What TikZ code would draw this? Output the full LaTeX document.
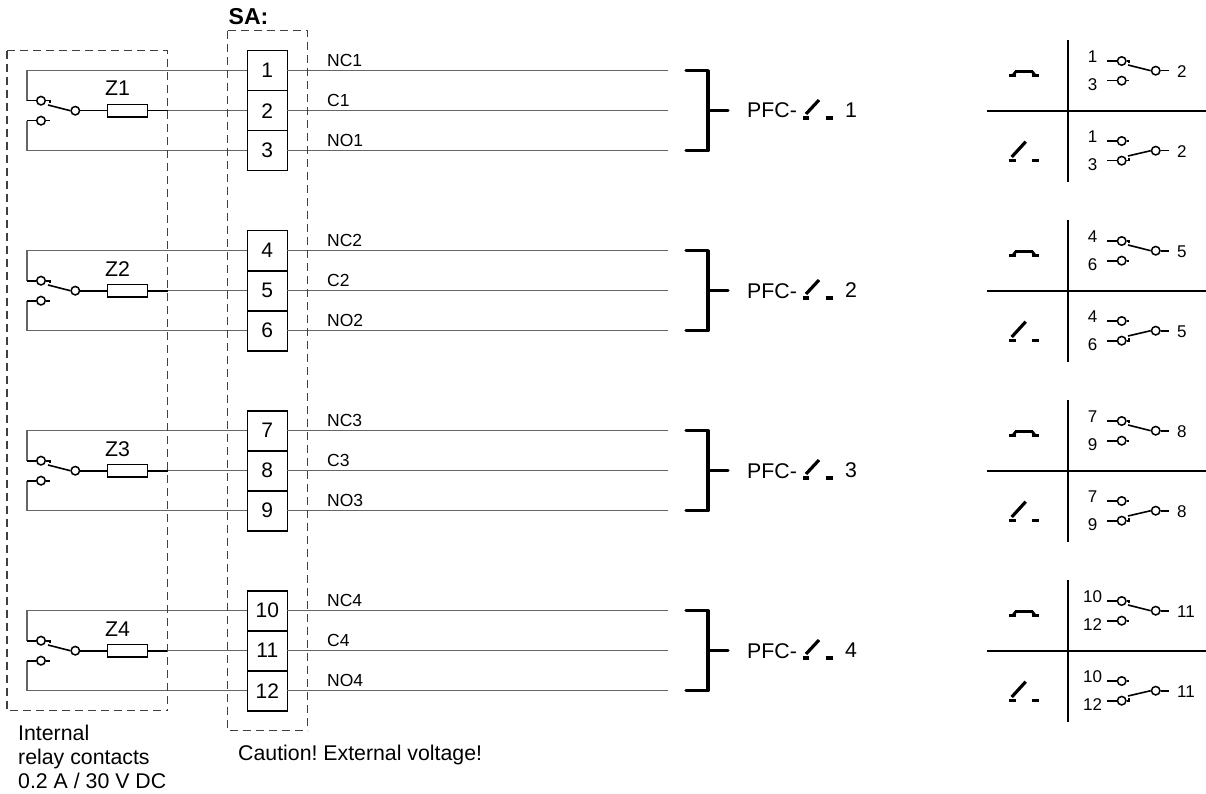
\documentclass[tikz,border=0pt]{standalone}
\usepackage{fontspec}
\setmainfont{Liberation Sans}
\usetikzlibrary{positioning}
\frenchspacing

\definecolor{wiregray}{gray}{0.4}
\definecolor{dashgray}{gray}{0.25}

\tikzset{
  wire/.style={wiregray, line width=1.2},
  heavy/.style={black, line width=1.6},
  bracket/.style={black, line width=3.2, line cap=round, line join=round},
  frame/.style={dashgray, line width=1.1, dash pattern=on 8 off 5},
  terminal/.style={draw, line width=1.6, minimum width=40, minimum height=40, inner sep=0, outer sep=0, font=\fontsize{21}{24}\selectfont},
  contact/.style={draw, circle, line width=1.5, minimum size=8.5, inner sep=0},
  fuse/.style={draw, line width=1.5, minimum width=40, minimum height=12.5, inner sep=0, outer sep=0},
  label/.style={inner sep=0, font=\fontsize{21.3}{24}\selectfont},
  wirename/.style={inner sep=0, anchor=base west, font=\fontsize{17.5}{20}\selectfont},
  pinname/.style={inner sep=0, font=\fontsize{17}{20}\selectfont},
}

\begin{document}
\begin{tikzpicture}[x=1pt, y=-1pt]

\useasboundingbox (0,0) rectangle (1206,794);

\node [inner sep=0, anchor=base west, font=\bfseries\fontsize{23}{24}\selectfont] (sa) at (228.5,25) {SA:};

% groups, 180 apart
\foreach \g/\a/\b/\c/\s/\nc/\cm/\no in {0/1/2/3/1/NC1/C1/NO1, 180/4/5/6/2/NC2/C2/NO2, 360/7/8/9/3/NC3/C3/NO3, 540/10/11/12/4/NC4/C4/NO4} {
\begin{scope}[yshift=-\g]

% terminals
\node [terminal] (ta) at (267.3,70.7) {\a};
\node [terminal, below=0pt of ta] (tb) {\b};
\node [terminal, below=0pt of tb] (tc) {\c};

% relay
\node [contact] (upper) at (41,100.7) {};
\node [contact] (lower) at (41,120.7) {};
\node [contact] (common) at (75.3,110.7) {};
\node [fuse] (fuse) at (127.3,110.7) {};
\node [label, anchor=base west] (zname) at (105,96) {Z\s};

\draw [wire] (ta.west) -- (27,70.7) -- (27,100.7);
\draw [wire] (tc.west) -- (27,150.7) -- (27,120.7);
\draw [heavy] (26.5,100.7) -- (upper.west);
\draw [heavy] (26.5,120.7) -- (lower.west);
\draw [heavy] (upper.east) -- (50,100.7) -- (50,103);
\draw [heavy] (lower.east) -- (50,120.7);
\draw [heavy] (48,105) -- (common.west);
\draw [heavy] (common.east) -- (fuse.west);
\draw [heavy] (fuse.east) -- (168,110.7) coordinate (fuseout);
\draw [wire] (fuseout) -- (tb.west);

% lines to the bracket
\coordinate (ea) at (668,70.7);
\coordinate (eb) at (668,110.7);
\coordinate (ec) at (668,150.7);
\draw [wire] (ta.east) -- (ea);
\draw [wire] (tb.east) -- (eb);
\draw [wire] (tc.east) -- (ec);
\node [wirename] (nca) at (327,66.7) {\nc};
\node [wirename] (cma) at (327,106.7) {\cm};
\node [wirename] (noa) at (327,146.7) {\no};

\draw [bracket] (686,70.7) -- (708,70.7) -- (708,150.7) -- (686,150.7);
\draw [bracket] (708,110.7) -- (728,110.7);

\node [label, anchor=base west] (pfc) at (747,118) {PFC-};
\node [label] (pfcnum) at (851,110.5) {\s};
\draw [bracket, line cap=butt] (806,114) -- (819,100);
\draw [bracket, line cap=butt] (802.7,118) -- (809.3,118);
\draw [bracket, line cap=butt] (826,118) -- (832.7,118);

% table
\draw [black, line width=1.8] (1067.7,40) -- (1067.7,181.7);
\draw [black, line width=1.8] (987,110.7) -- (1206,110.7);

% closed symbol
\draw [bracket, line cap=butt] (1009,75.7) -- (1015.7,75.7);
\draw [bracket, line cap=butt] (1032,75.7) -- (1038.5,75.7);
\draw [black, line width=2.8] (1013.5,74.5) -- (1016,71.5) -- (1032,71.5) -- (1034.5,74.5);

% open symbol
\draw [bracket, line cap=butt] (1009,160.7) -- (1015.7,160.7);
\draw [bracket, line cap=butt] (1032,160.7) -- (1038.5,160.7);
\draw [bracket, line cap=butt] (1011.7,157) -- (1025.7,141.7);

% switch, closed
\node [pinname] (pa) at (1092.5,57) {\a};
\node [pinname] (pc) at (1092.5,85) {\c};
\node [pinname, anchor=west] (pb) at (1177,71.7) {\b};
\node [contact] (ka) at (1121.7,61) {};
\node [contact] (kc) at (1121.7,80.7) {};
\node [contact] (kb) at (1155.7,70.7) {};
\draw [heavy] (1107,61) -- (ka.west);
\draw [heavy] (1107,80.7) -- (kc.west);
\draw [heavy] (ka.east) -- (1129,61) -- (1129,63);
\draw [heavy] (kc.east) -- (1129,80.7);
\draw [heavy] (1128,65) -- (kb.west);
\draw [heavy] (kb.east) -- (1169,70.7);

% switch, open
\node [pinname] (qa) at (1092.5,137) {\a};
\node [pinname] (qc) at (1092.5,165) {\c};
\node [pinname, anchor=west] (qb) at (1177,151.7) {\b};
\node [contact] (la) at (1121.7,141) {};
\node [contact] (lc) at (1121.7,160.7) {};
\node [contact] (lb) at (1155.7,150.7) {};
\draw [heavy] (1107,141) -- (la.west);
\draw [heavy] (1107,160.7) -- (lc.west);
\draw [heavy] (la.east) -- (1129,141);
\draw [heavy] (lc.east) -- (1129,160.7) -- (1129,158);
\draw [heavy] (1128,156) -- (lb.west);
\draw [heavy] (lb.east) -- (1169,150.7);

\end{scope}
}

% dashed frames
\draw [frame] (7,50.7) -- (167.3,50.7) -- (167.3,710.7) (7,50.7) -- (7,710.7) -- (167.3,710.7);
\draw [frame] (227.5,30.7) -- (307.5,30.7) -- (307.5,730.7) (227.5,30.7) -- (227.5,730.7) -- (307.5,730.7);

\node [label, anchor=base west] (internal) at (18,740) {Internal};
\node [label, anchor=base west] (relay) at (18,764) {relay contacts};
\node [label, anchor=base west] (rating) at (18,788) {0.2 A / 30 V DC};
\node [label, anchor=base west] (caution) at (238,760) {Caution! External voltage!};

\end{tikzpicture}
\end{document}
